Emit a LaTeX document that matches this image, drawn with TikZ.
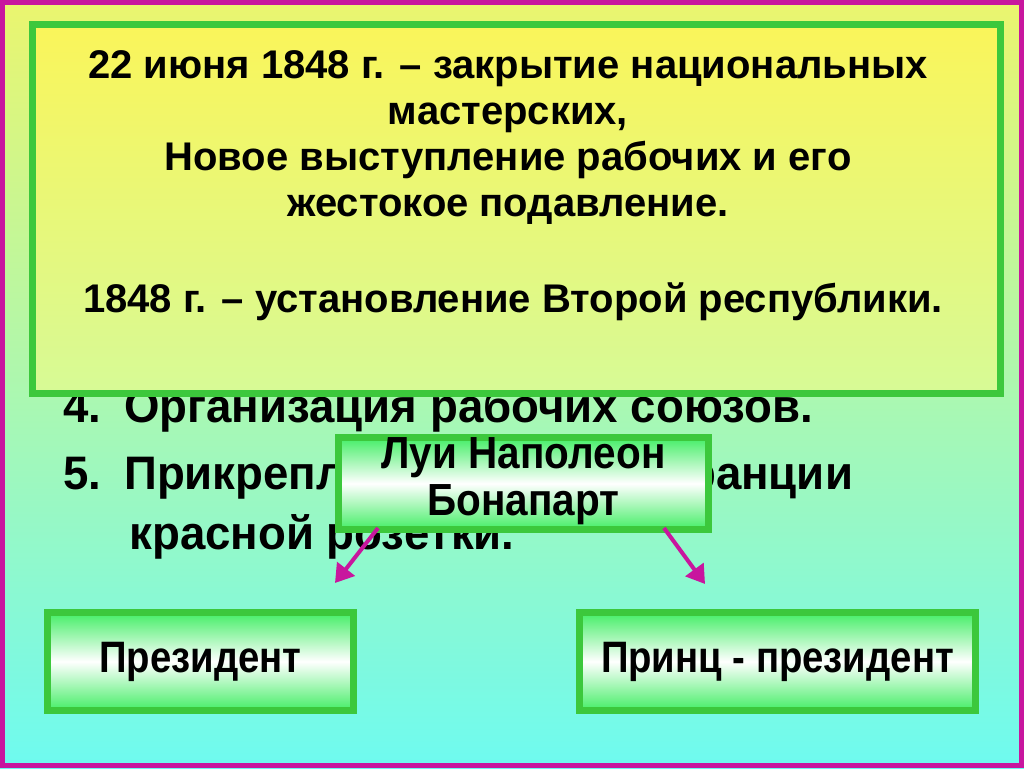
\documentclass[tikz,border=0pt]{standalone}
\usepackage{fontspec}
\setmainfont{Liberation Sans}
\usetikzlibrary{arrows.meta}
\definecolor{gb}{HTML}{3CC83C}
\definecolor{mg}{HTML}{C8169E}
\definecolor{gf}{HTML}{44EE66}
\tikzset{
 gbox/.style={draw=gb,line width=7pt,top color=gf,bottom color=gf,middle color=white,inner sep=0pt},
 arr/.style={draw=mg,line width=4pt,-{Triangle[length=18pt,width=22pt]}},
 narrow/.style={font=\bfseries\fontsize{47}{56}\selectfont,anchor=west,xscale=0.97,transform shape}
}
\begin{document}
\begin{tikzpicture}[x=1pt,y=-1pt]
\useasboundingbox (0,0) rectangle (1024,768);
\shade[top color={rgb,255:red,235;green,245;blue,110},bottom color={rgb,255:red,110;green,250;blue,240}] (0,0) rectangle (1024,768);
\draw[mg,line width=5pt] (2.5,2.5) rectangle (1021.5,765.5);
% list items
\node[narrow] (l4) at (60,410) {4.\hspace{0.5em}Организация рабочих союзов.};
\node[narrow] (l5) at (60,477) {5.\hspace{0.5em}Прикрепление к флагу Франции};
\node[narrow] (l6) at (126,537) {красной розетки.};
% big box
\node[draw=gb,line width=7pt,top color={rgb,255:red,250;green,245;blue,90},bottom color={rgb,255:red,215;green,250;blue,150},minimum width=968pt,minimum height=368pt,anchor=north west,inner sep=0pt] (big) at (28.5,21.5) {};
\node[font=\bfseries\fontsize{40}{46}\selectfont,align=center] (t1) at (508,138) {22 июня 1848 г. – закрытие национальных\\мастерских,\\Новое выступление рабочих и его\\жестокое подавление.};
\node[font=\bfseries\fontsize{40}{46}\selectfont] (t2) at (513,302) {1848 г. – установление Второй республики.};
% louis
\node[gbox,minimum width=370pt,minimum height=92pt,anchor=north west] (lu) at (335,434) {};
\node[font=\bfseries\fontsize{45}{47}\selectfont,align=center,xscale=0.9,transform shape] at ([yshift=2pt]lu.center) {Луи Наполеон\\Бонапарт};
\node[gbox,minimum width=306pt,minimum height=98pt,anchor=north west] (pr) at (44,609) {};
\node[font=\bfseries\fontsize{44}{40}\selectfont,xscale=0.87,transform shape] at (pr) {Президент};
\node[gbox,minimum width=396pt,minimum height=98pt,anchor=north west] (pp) at (576,609) {};
\node[font=\bfseries\fontsize{44}{40}\selectfont,xscale=0.87,transform shape] at (pp) {Принц - президент};
\coordinate (a1s) at (378,528); \coordinate (a1e) at (335,583);
\coordinate (a2s) at (664,528); \coordinate (a2e) at (705,584);
\draw[arr] (a1s) -- (a1e);
\draw[arr] (a2s) -- (a2e);
\end{tikzpicture}
\end{document}
